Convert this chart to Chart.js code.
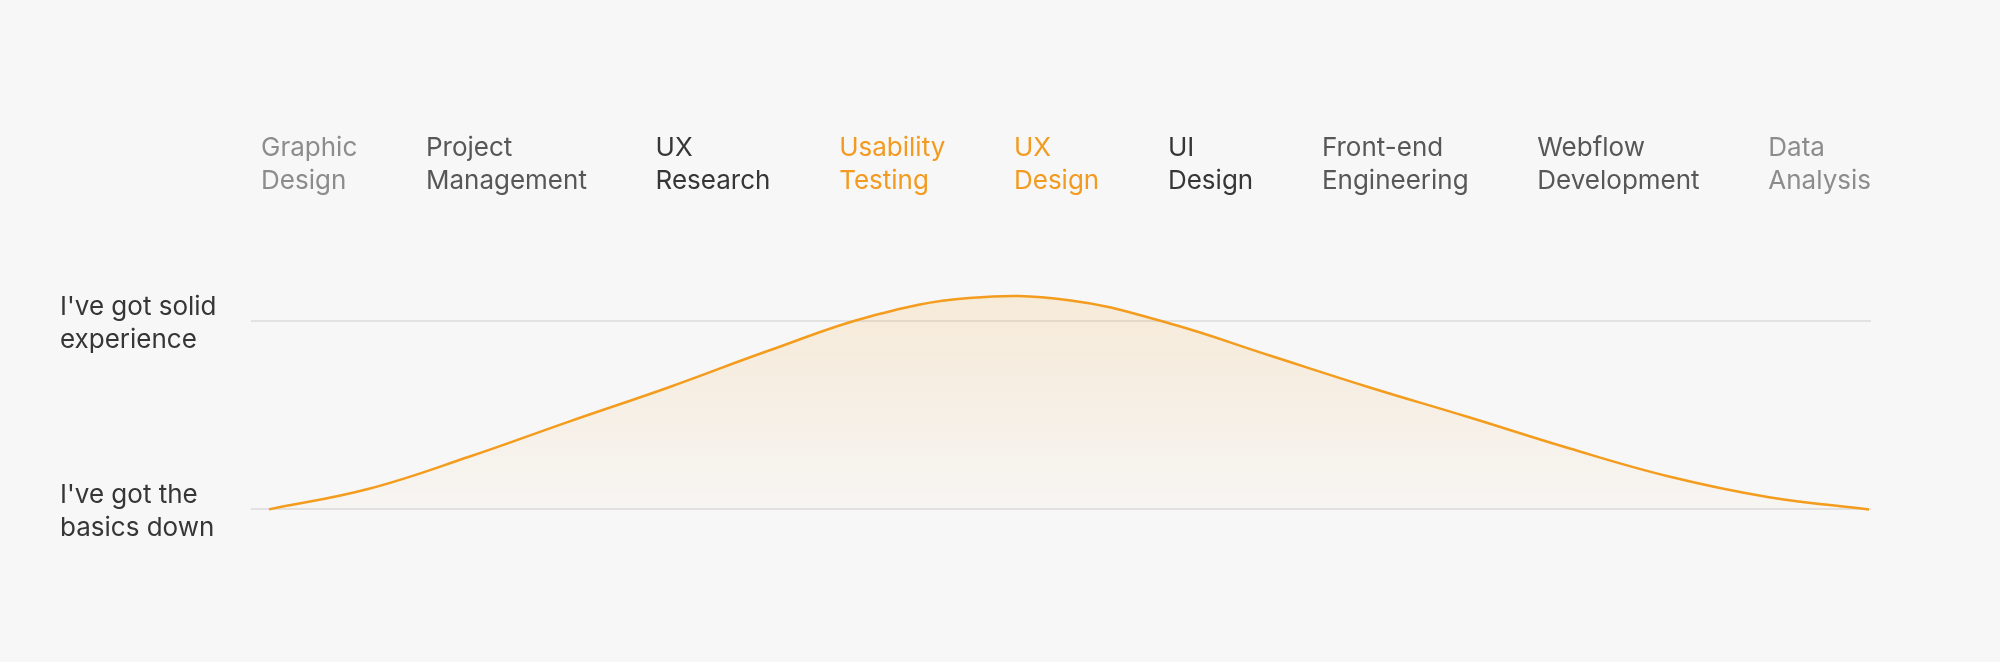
<!DOCTYPE html>
<html>
<head>
<meta charset="utf-8">
<script src="https://cdn.jsdelivr.net/npm/chart.js@4/dist/chart.umd.min.js"></script>
<style>
  body { margin: 0; background: #f7f7f7; }
  #wrap { width: 2000px; height: 662px; }
</style>
</head>
<body>
<div id="wrap"><canvas id="skillChart"></canvas></div>
<script>
// skills shown across the top
var skills = [
    ['Graphic', 'Design'],
    ['Project', 'Management'],
    ['UX', 'Research'],
    ['Usability', 'Testing'],
    ['UX', 'Design'],
    ['UI', 'Design'],
    ['Front-end', 'Engineering'],
    ['Webflow', 'Development'],
    ['Data', 'Analysis']
];
var skillColors = ['#8c8c8c', '#575757', '#363636', '#f29b20', '#f29b20', '#363636', '#575757', '#575757', '#8c8c8c'];

// experience levels on the y axis
var levels = [['I\'ve got the', 'basics down'], ['I\'ve got solid', 'experience']];

// curve
var steps = [0, 1, 2, 3, 4, 5, 6, 7, 8, 9, 10, 11, 12, 13, 14, 15, 16];
var experience = [0, 0.11, 0.28, 0.467, 0.65, 0.845, 1.025, 1.124, 1.113, 0.99, 0.82, 0.65, 0.49, 0.325, 0.175, 0.065, 0];

var orange = '#f39c1e';
var labelFont = { family: 'Inter', size: 26, lineHeight: 1.27 };

var ctx = document.getElementById('skillChart').getContext('2d');
var myChart = new Chart(ctx, {
    type: 'line',
    data: {
        datasets: [{
            label: 'Experience',
            data: steps.map(function (s, i) { return { x: s, y: experience[i] }; }),
            borderColor: orange,
            borderWidth: 2.5,
            tension: 0.4,
            pointRadius: 0,
            fill: 'origin',
            backgroundColor: function (c) {
                var area = c.chart.chartArea;
                if (!area) return 'rgba(243,156,30,0.1)';
                var g = c.chart.ctx.createLinearGradient(0, area.top, 0, c.chart.scales.y.getPixelForValue(0));
                g.addColorStop(0, 'rgba(243,156,30,0.16)');
                g.addColorStop(1, 'rgba(243,156,30,0.02)');
                return g;
            }
        }]
    },
    options: {
        responsive: true,
        maintainAspectRatio: false,
        animation: false,
        layout: { padding: { left: 60, right: 129, top: 65, bottom: 115 } },
        plugins: { legend: { display: false }, tooltip: { enabled: false } },
        scales: {
            x: {
                type: 'linear',
                min: -0.18,
                max: 16.02,
                display: false
            },
            skills: {
                type: 'linear',
                position: 'top',
                min: -0.18,
                max: 16.02,
                grid: { display: false },
                border: { display: false },
                afterBuildTicks: function (scale) {
                    // spread the names over the width, first one left, last one right
                    var c = scale.ctx;
                    c.save();
                    c.font = labelFont.size + 'px ' + labelFont.family;
                    var widths = skills.map(function (s) {
                        return Math.max.apply(null, s.map(function (t) { return c.measureText(t).width; }));
                    });
                    c.restore();
                    var inset = 10;
                    var total = widths.reduce(function (a, b) { return a + b; }, 0);
                    var gap = (scale.width - inset - total) / (skills.length - 1);
                    var px = inset;
                    scale.ticks = skills.map(function (s, i) {
                        var v = scale.min + px / scale.width * (scale.max - scale.min);
                        px += widths[i] + gap;
                        return { value: v };
                    });
                },
                afterFit: function (scale) { scale.height = 200; },
                ticks: {
                    autoSkip: false,
                    maxRotation: 0,
                    align: 'start',
                    padding: 59,
                    font: labelFont,
                    color: function (c) { return skillColors[c.index]; },
                    callback: function (v, i) { return skills[i]; }
                }
            },
            y: {
                min: -0.2,
                max: 1.3,
                border: { display: false },
                grid: { color: '#e2e2e2', lineWidth: 2, drawTicks: false },
                afterBuildTicks: function (scale) {
                    scale.ticks = [{ value: 0 }, { value: 1 }];
                },
                afterFit: function (scale) { scale.width = 191; },
                ticks: {
                    crossAlign: 'far',
                    labelOffset: 2,
                    font: labelFont,
                    color: '#363636',
                    callback: function (v, i) { return levels[i]; }
                }
            }
        }
    }
});
</script>
</body>
</html>
